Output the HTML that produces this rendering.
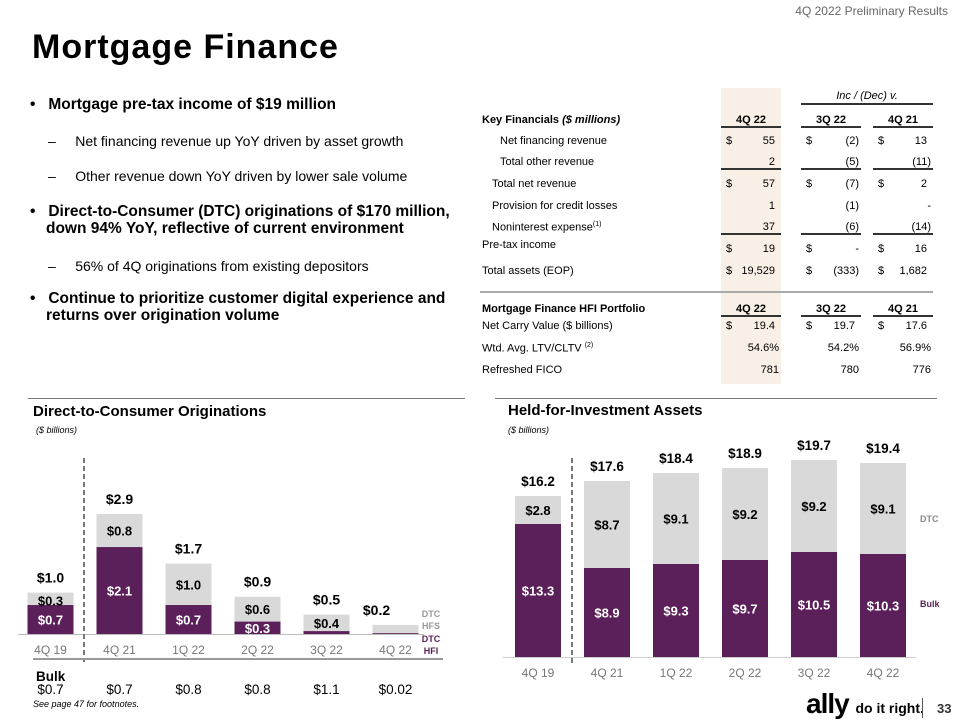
<!DOCTYPE html>
<html><head><meta charset="utf-8"><style>
body{margin:0;width:960px;height:720px;background:#fff;font-family:"Liberation Sans",sans-serif;position:relative;overflow:hidden;color:#000}
.a{position:absolute;white-space:nowrap}
.b{font-weight:bold;font-size:15.5px}
.s{font-size:14px}
.t{font-size:11px}
.r{text-align:right}
.ln{position:absolute;height:1.5px;background:#333}
</style></head><body>
<div class="a" style="right:12px;top:4px;font-size:12px;color:#666">4Q 2022 Preliminary Results</div>
<div class="a" style="left:32px;top:28px;font-size:34px;font-weight:bold;letter-spacing:1px">Mortgage Finance</div>

<div>
<div class="a b" style="left:30px;top:96px">•&nbsp;&nbsp; Mortgage pre-tax income of $19 million</div>
<div class="a s" style="left:48px;top:133px">–&nbsp;&nbsp;&nbsp;&nbsp; Net financing revenue up YoY driven by asset growth</div>
<div class="a s" style="left:48px;top:168px">–&nbsp;&nbsp;&nbsp;&nbsp; Other revenue down YoY driven by lower sale volume</div>
<div class="a b" style="left:30px;top:203px">•&nbsp;&nbsp; Direct-to-Consumer (DTC) originations of $170 million,</div>
<div class="a b" style="left:46px;top:220px">down 94% YoY, reflective of current environment</div>
<div class="a s" style="left:48px;top:258px">–&nbsp;&nbsp;&nbsp;&nbsp; 56% of 4Q originations from existing depositors</div>
<div class="a b" style="left:30px;top:290px">•&nbsp;&nbsp; Continue to prioritize customer digital experience and</div>
<div class="a b" style="left:46px;top:307px">returns over origination volume</div>
</div>

<div>
<div style="position:absolute;left:721px;top:88px;width:60px;height:296px;background:#f8efe6"></div>
<div class="a t" style="left:801px;width:132px;text-align:center;top:90px;font-style:italic">Inc / (Dec) v.</div>
<div class="ln" style="left:801px;top:103px;width:132px"></div>
<div id="tbl"></div>
<div style="position:absolute;left:480px;top:291px;width:453px;height:1.5px;background:#aaa"></div>
</div>

<div style="position:absolute;left:28px;top:398px;width:437px;height:1px;background:#777"></div>
<div class="a" style="left:33px;top:403px;font-size:15px;font-weight:bold">Direct-to-Consumer Originations</div>
<div class="a" style="left:36px;top:425px;font-size:9px;font-style:italic">($ billions)</div>
<div style="position:absolute;left:495px;top:398px;width:442px;height:1px;background:#777"></div>
<div class="a" style="left:508px;top:402px;font-size:15px;font-weight:bold">Held-for-Investment Assets</div>
<div class="a" style="left:508px;top:425px;font-size:9px;font-style:italic">($ billions)</div>

<svg id="c1" width="480" height="720" style="position:absolute;left:0;top:0;font-family:'Liberation Sans',sans-serif"></svg>
<svg id="c2" width="960" height="720" style="position:absolute;left:0;top:0;font-family:'Liberation Sans',sans-serif"></svg>

<div class="a" style="left:33px;top:699px;font-size:9px;font-style:italic">See page 47 for footnotes.</div>
<div class="a" style="left:806px;top:690px;font-size:28px;font-weight:bold;letter-spacing:-1px;line-height:28px">ally <span style="font-size:14px;letter-spacing:0">do it right.</span></div>
<div style="position:absolute;left:922px;top:698px;width:1px;height:20px;background:#555"></div>
<div class="a" style="left:937px;top:701px;font-size:13px;font-weight:bold;color:#333">33</div>

<script>
// ---------- table ----------
const rows=[
 ["Key Financials <i>($ millions)</i>",482,121,true,["4Q 22","","3Q 22","","4Q 21",""],1],
 ["Net financing revenue",500,142,false,["$","55","$","(2)","$","13"],0],
 ["Total other revenue",500,163,false,["","2","","(5)","","(11)"],1],
 ["Total net revenue",492,185,false,["$","57","$","(7)","$","2"],0],
 ["Provision for credit losses",492,207,false,["","1","","(1)","","-"],0],
 ["Noninterest expense<sup style='font-size:7px'>(1)</sup>",492,228,false,["","37","","(6)","","(14)"],1],
 ["Pre-tax income",482,246,false,[],0],
 ["",482,250,false,["$","19","$","-","$","16"],0],
 ["Total assets (EOP)",482,272,false,["$","19,529","$","(333)","$","1,682"],0],
 ["Mortgage Finance HFI Portfolio",482,310,true,["4Q 22","","3Q 22","","4Q 21",""],1],
 ["Net Carry Value ($ billions)",482,327,false,["$","19.4","$","19.7","$","17.6"],0],
 ["Wtd. Avg. LTV/CLTV <sup style='font-size:7px'>(2)</sup>",482,349,false,["","54.6%","","54.2%","","56.9%"],0],
 ["Refreshed FICO",482,371,false,["","781","","780","","776"],0]
];
const cols=[[721,781],[801,861],[873,933]];
let h="";
rows.forEach(r=>{
 const [lab,x,y,bold,v,ul]=r;
 const fw=bold?"bold":"normal";
 if(lab) h+=`<div class="a t" style="left:${x}px;top:${y-7}px;font-weight:${fw}">${lab}</div>`;
 if(v.length){
  cols.forEach((c,i)=>{
   if(bold){h+=`<div class="a t" style="left:${c[0]}px;width:60px;text-align:center;top:${y-7}px;font-weight:bold">${v[i*2]}</div>`;}
   else{
    if(v[i*2]) h+=`<div class="a t" style="left:${c[0]+5}px;top:${y-7}px">${v[i*2]}</div>`;
    const pad=v[i*2+1].startsWith("(")||v[i*2+1]=="-"||v[i*2+1].includes("%")||v[i*2+1].length==3&&!v[i*2+1].includes(".")?2:6;
    h+=`<div class="a t r" style="left:${c[0]}px;width:${60-pad}px;top:${y-7}px">${v[i*2+1]}</div>`;
   }
   if(ul) h+=`<div class="ln" style="left:${c[0]}px;top:${y+5}px;width:60px"></div>`;
  });
 }
});
document.getElementById('tbl').innerHTML=h;

// ---------- chart 1: DTC originations ----------
const c1Cats=["4Q 19","4Q 21","1Q 22","2Q 22","3Q 22","4Q 22"];
const c1Hfi=[0.7,2.1,0.7,0.3,0.07,0.02];
const c1Hfs=[0.3,0.8,1.0,0.6,0.4,0.2];
const c1HfiLabels=["$0.7","$2.1","$0.7","$0.3","",""];
const c1HfsLabels=["$0.3","$0.8","$1.0","$0.6","$0.4",""];
const c1Totals=["$1.0","$2.9","$1.7","$0.9","$0.5","$0.2"];
const c1Bulk=["$0.7","$0.7","$0.8","$0.8","$1.1","$0.02"];
const NS="http://www.w3.org/2000/svg";
function mk(svg,tag,attrs,text){const e=document.createElementNS(NS,tag);for(const k in attrs)e.setAttribute(k,attrs[k]);if(text!==undefined)e.textContent=text;svg.appendChild(e);return e;}
const s1=document.getElementById('c1');
const x1=i=>50.5+i*69, y1=v=>634-v*41.4, bw=46;
c1Cats.forEach((c,i)=>{
 const yh=y1(c1Hfi[i]), yt=y1(c1Hfi[i]+c1Hfs[i]);
 let r=mk(s1,'rect',{x:x1(i)-bw/2,y:yt,width:bw,height:yh-yt,fill:'#d9d9d9'});
 
 
 r=mk(s1,'rect',{x:x1(i)-bw/2,y:yh,width:bw,height:634-yh,fill:'#5b2059'});
 
 
 if(c1HfiLabels[i]) mk(s1,'text',{x:x1(i),y:(yh+634)/2+5,'text-anchor':'middle','font-size':13,'font-weight':'bold',fill:'#fff'},c1HfiLabels[i]);
 if(c1HfsLabels[i]) mk(s1,'text',{x:x1(i),y:Math.max((yt+yh)/2+5,yt+13),'text-anchor':'middle','font-size':13,'font-weight':'bold',fill:'#000'},c1HfsLabels[i]);
 mk(s1,'text',{x:x1(i)+(i==5?-19:0),y:yt-10,'text-anchor':'middle','font-size':14,'font-weight':'bold'},c1Totals[i]);
 mk(s1,'text',{x:x1(i),y:654,'text-anchor':'middle','font-size':12,fill:'#777'},c);
 mk(s1,'text',{x:x1(i),y:694,'text-anchor':'middle','font-size':13.5},c1Bulk[i]);
});
mk(s1,'line',{x1:18,x2:424,y1:634.5,y2:634.5,stroke:'#bbb','stroke-width':1});
mk(s1,'line',{x1:84,x2:84,y1:458,y2:662,stroke:'#777','stroke-width':2,'stroke-dasharray':'5,3'});
mk(s1,'line',{x1:33,x2:443,y1:659,y2:659,stroke:'#999','stroke-width':2});
mk(s1,'text',{x:36,y:681,'font-size':13.5,'font-weight':'bold'},"Bulk");
mk(s1,'text',{x:431,y:617,'text-anchor':'middle','font-size':9,'font-weight':'bold',fill:'#999'},"DTC");
mk(s1,'text',{x:431,y:629,'text-anchor':'middle','font-size':9,'font-weight':'bold',fill:'#999'},"HFS");
mk(s1,'text',{x:431,y:642,'text-anchor':'middle','font-size':9,'font-weight':'bold',fill:'#5b2059'},"DTC");
mk(s1,'text',{x:431,y:654,'text-anchor':'middle','font-size':9,'font-weight':'bold',fill:'#5b2059'},"HFI");

// ---------- chart 2: HFI assets ----------
const c2Cats=["4Q 19","4Q 21","1Q 22","2Q 22","3Q 22","4Q 22"];
const c2Bulk=[13.3,8.9,9.3,9.7,10.5,10.3];
const c2Dtc=[2.8,8.7,9.1,9.2,9.2,9.1];
const c2Totals=["$16.2","$17.6","$18.4","$18.9","$19.7","$19.4"];
const s2=document.getElementById('c2');
const x2=i=>538+i*69, y2=v=>657-v*10;
c2Cats.forEach((c,i)=>{
 const yb=y2(c2Bulk[i]), yt=y2(c2Bulk[i]+c2Dtc[i]);
 let r=mk(s2,'rect',{x:x2(i)-bw/2,y:yt,width:bw,height:yb-yt,fill:'#d9d9d9'});
 
 
 r=mk(s2,'rect',{x:x2(i)-bw/2,y:yb,width:bw,height:657-yb,fill:'#5b2059'});
 
 
 mk(s2,'text',{x:x2(i),y:(yb+657)/2+5,'text-anchor':'middle','font-size':13,'font-weight':'bold',fill:'#fff'},'$'+c2Bulk[i].toFixed(1));
 mk(s2,'text',{x:x2(i),y:(yt+yb)/2+5,'text-anchor':'middle','font-size':13,'font-weight':'bold'},'$'+c2Dtc[i].toFixed(1));
 mk(s2,'text',{x:x2(i),y:yt-10,'text-anchor':'middle','font-size':13.5,'font-weight':'bold'},c2Totals[i]);
 mk(s2,'text',{x:x2(i),y:677,'text-anchor':'middle','font-size':12,fill:'#777'},c);
});
mk(s2,'line',{x1:503,x2:916,y1:657.5,y2:657.5,stroke:'#ccc','stroke-width':1});
mk(s2,'line',{x1:572,x2:572,y1:458,y2:665,stroke:'#777','stroke-width':2,'stroke-dasharray':'5,3'});
mk(s2,'text',{x:920,y:522,'font-size':9,'font-weight':'bold',fill:'#888'},"DTC");
mk(s2,'text',{x:920,y:607,'font-size':9,'font-weight':'bold',fill:'#5b2059'},"Bulk");
</script>
</body></html>
